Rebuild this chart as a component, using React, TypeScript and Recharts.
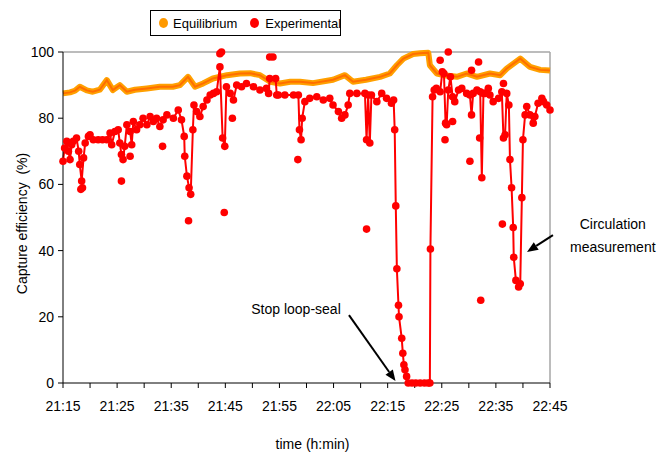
import React from 'react'
import {
  ComposedChart, Line, Scatter, XAxis, YAxis, ReferenceLine, ReferenceDot,
} from 'recharts'

// time is in minutes after 21:15
const START_MIN = 21 * 60 + 15
const xTicks = [0, 5, 10, 15, 20, 25, 30, 35, 40, 45, 50, 55, 60, 65, 70, 75, 80, 85, 90]
const yTicks = [0, 20, 40, 60, 80, 100]

const eqTime = [
  0, 1.3, 2.2, 3.1, 4.4, 5.5, 6.8, 8.1, 9.2, 10.5,
  11.8, 13.3, 15.5, 17.9, 20.3, 21.6, 23.1, 24.4, 25.9, 27.7,
  30.3, 32.7, 34.6, 36.4, 38.3, 40.1, 42.0, 43.8, 46.2, 49.9,
  52.1, 53.6, 56.0, 58.6, 60.4, 61.7, 62.9, 64.7, 66.0, 67.5,
  67.8, 69.1, 70.4, 72.8, 74.6, 76.5, 78.9, 80.8, 82.0, 84.5,
  86.3, 88.2, 90,
]
const eqValue = [
  87.5, 87.8, 88.3, 89.5, 88.4, 88, 88.6, 91.5, 88.5, 90,
  88, 88.6, 89, 89.5, 89.5, 90, 92.5, 89.5, 90.5, 92,
  93, 93.5, 93.6, 93, 91, 90.5, 91, 91, 90.6, 91.6,
  93, 91, 91.6, 92.5, 93.5, 96, 98, 99.4, 99.6, 99.8,
  96, 93.5, 93, 92.5, 93.5, 92.5, 93.5, 93, 95, 98,
  95.5, 94.6, 94.4,
]

const expTime = [
  0, 0.3, 0.7, 1.0, 1.3, 1.6, 1.9, 2.5, 2.9, 3.1,
  3.45, 3.8, 4.1, 4.7, 5.0, 5.6, 6.5, 7.3, 8.1, 8.7,
  9.0, 9.6, 10.2, 10.5, 10.8, 11.1, 11.4, 11.8, 12.4, 12.7,
  13.0, 13.6, 14.2, 14.8, 15.5, 16.1, 16.7, 17.3, 17.9, 18.5,
  19.2, 20.4, 21.3, 21.9, 22.4, 22.5, 22.9, 23.3, 23.6, 24.0,
  24.2, 24.7, 25.3, 25.9, 26.6, 27.2, 27.8, 28.4, 29.0, 29.5,
  29.9, 30.2, 30.9, 31.5, 32.1, 33.0, 33.9, 35.2, 36.4, 37.6,
  38.0, 38.2, 39.3, 39.5, 39.8, 41.0, 42.6, 43.5, 43.7, 44.0,
  44.2, 44.7, 45.6, 46.9, 48.1, 49.3, 49.9, 50.9, 51.5, 52.1,
  52.7, 53.0, 54.3, 55.8, 56.1, 56.4, 56.7, 57.0, 58.0, 58.9,
  59.8, 60.7, 61.1, 61.3, 61.5, 61.7, 62.0, 62.1, 62.6, 62.8,
  63.0, 63.2, 63.5, 63.8, 64.5, 65.2, 66.0, 66.8, 67.5, 67.8,
  67.9, 68.3, 68.6, 69.0, 69.7, 70.1, 70.4, 70.7, 70.9, 71.2,
  71.6, 72.0, 72.4, 73.1, 73.7, 74.6, 75.2, 75.5, 75.8, 76.5,
  77.1, 77.4, 77.7, 78.0, 78.6, 78.9, 79.5, 80.5, 81.1, 81.4,
  81.7, 82.0, 82.4, 82.6, 82.9, 83.2, 83.3, 83.7, 84.2, 84.5,
  84.8, 85.0, 85.4, 85.7, 86.3, 86.9, 87.2, 87.8, 88.5, 88.8,
  89.4, 90.0,
]
const expValue = [
  67, 71, 73, 70, 67.5, 72, 73, 74, 70, 66,
  61, 68, 72.5, 74.5, 75, 73.5, 73.5, 73.5, 73.5, 75.5,
  72, 76, 76.5, 72.5, 69, 67.5, 71.5, 78, 76, 72,
  79, 76.5, 78, 80, 78, 80.5, 79, 80, 77.5, 79.5,
  81, 80, 82.5, 79.5, 74.5, 68.5, 62.5, 59, 57, 76.5,
  84, 82, 80.5, 83.5, 85.5, 87, 87.5, 88, 95.5, 74,
  71.5, 89.5, 87.5, 85.5, 90, 89.5, 90.5, 89.5, 88.5, 89,
  87.5, 92, 92, 87, 87, 87, 87, 87, 76.5, 73.5,
  80, 85, 86, 86.5, 85.5, 86, 84, 82, 80, 81,
  84, 87.5, 87.5, 87.5, 73.5, 87, 72.5, 87, 85, 87.5,
  86, 84.5, 85.5, 76.5, 53.5, 34.5, 23.5, 20, 13.5, 9,
  5.5, 4, 2, 0, 0, 0, 0, 0, 0, 0,
  40.5, 86.5, 88.5, 89, 88, 94, 93.5, 78.5, 78, 88.5,
  92.5, 86.5, 85, 88.5, 89, 87.5, 87, 81, 87.5, 88.5,
  88, 62, 87.5, 87.5, 89, 87, 85, 86, 88, 74,
  75, 87.5, 84, 67.5, 59, 47, 38, 31, 29, 30,
  56, 73.5, 81, 83.5, 81, 78.5, 80.5, 84.5, 86, 85,
  84, 82.5,
]

// isolated experimental points, not on the connected trace
const outTime = [
  3.3, 3.6, 10.8, 12.4, 18.4, 23.2, 29.0, 29.3, 29.8, 31.3,
  38.2, 38.8, 43.4, 56.1, 69.7, 70.6, 71.2, 72.0, 75.2, 75.5,
  76.8, 77.0, 77.2, 81.2, 81.4,
]
const outValue = [
  58.5, 59, 61, 68.5, 71.5, 49, 99.5, 100, 51.5, 80,
  98.5, 98.5, 67.5, 46.5, 97.5, 73.5, 100, 79, 67, 94.5,
  97, 74, 25, 48, 90.5,
]

const zip = (ts: number[], vs: number[]) => ts.map((t, i) => ({ t, v: vs[i] }))
const eqData = zip(eqTime, eqValue)
const expData = zip(expTime, expValue)
const outData = zip(outTime, outValue)

const FONT = '"Liberation Sans", Arial, sans-serif'
const COLORS = {
  eqBand: '#FFA000',
  eqLine: '#FF6E00',
  exp: '#FF0000',
  frame: '#A6A6A6',
}

function clock(t: number) {
  const m = START_MIN + t
  const h = Math.floor(m / 60)
  const mm = m % 60
  return `${h}:${mm < 10 ? '0' : ''}${mm}`
}

function Arrow(p: any) {
  const { x1, y1, x2, y2 } = p
  const ang = Math.atan2(y2 - y1, x2 - x1)
  const L = 11, W = 4.5
  const bx = x2 - L * Math.cos(ang)
  const by = y2 - L * Math.sin(ang)
  const nx = -Math.sin(ang) * W
  const ny = Math.cos(ang) * W
  return (
    <g>
      <line x1={x1} y1={y1} x2={bx} y2={by} stroke="#000" strokeWidth={2} />
      <polygon points={`${x2},${y2} ${bx + nx},${by + ny} ${bx - nx},${by - ny}`} fill="#000" />
    </g>
  )
}

const textLabel = (lines: string[]) => (props: any) => {
  const vb = props.viewBox
  const cx = vb.x + (vb.width || 0) / 2
  const cy = vb.y + (vb.height || 0) / 2
  return (
    <text x={cx} y={cy - (lines.length - 1) * 11.5} textAnchor="middle" dominantBaseline="central"
      fontSize={14} fill="#000" fontFamily={FONT}>
      {lines.map((l, i) => (
        <tspan key={i} x={cx} dy={i === 0 ? 0 : 23}>{l}</tspan>
      ))}
    </text>
  )
}

const yLabel = (props: any) => {
  const vb = props.viewBox
  const cx = vb.x - 1
  const cy = vb.y + vb.height / 2 + 6
  return (
    <text x={cx} y={cy} transform={`rotate(-90 ${cx} ${cy})`} textAnchor="middle"
      dominantBaseline="central" fontSize={14} fill="#000" fontFamily={FONT}>
      {'Capture efficiency\u00a0\u00a0(%)'}
    </text>
  )
}

function LegendBox() {
  const dot = (c: string) => (
    <span style={{ display: 'inline-block', width: 9, height: 10, borderRadius: '50%', background: c }} />
  )
  return (
    <div style={{
      position: 'absolute', left: 150, top: 10, width: 189, height: 24,
      border: '1.5px solid #000', display: 'flex', alignItems: 'center',
      fontFamily: FONT, fontSize: 13, color: '#000', background: '#fff',
    }}>
      <span style={{ marginLeft: 8, display: 'flex' }}>{dot('#FF9900')}</span>
      <span style={{ marginLeft: 5 }}>Equilibrium</span>
      <span style={{ marginLeft: 13, display: 'flex' }}>{dot(COLORS.exp)}</span>
      <span style={{ marginLeft: 6 }}>Experimental</span>
    </div>
  )
}

export default function App() {
  return (
    <div style={{ position: 'absolute', left: 0, top: 0, width: 670, height: 457, background: '#fff' }}>
      <ComposedChart width={670} height={457} margin={{ top: 52, right: 120, bottom: 44, left: 23 }}>
        <XAxis
          dataKey="t"
          type="number"
          domain={[0, 90]}
          ticks={xTicks}
          interval={0}
          tickFormatter={(t: number) => (t % 10 === 0 ? clock(t) : '')}
          tick={{ fontSize: 14, fill: '#000', fontFamily: FONT }}
          tickLine={{ stroke: '#000' }}
          axisLine={{ stroke: '#000' }}
          tickSize={5}
          tickMargin={13}
          height={30}
          label={{ value: 'time (h:min)', position: 'bottom', offset: 26, dx: 6, fontSize: 14, fill: '#000', fontFamily: FONT }}
        />
        <YAxis
          dataKey="v"
          type="number"
          domain={[0, 100]}
          ticks={yTicks}
          interval={0}
          tick={{ fontSize: 14, fill: '#000', fontFamily: FONT }}
          tickLine={{ stroke: '#000' }}
          axisLine={{ stroke: '#000' }}
          tickSize={5}
          tickMargin={4}
          width={40}
          label={{ content: yLabel }}
        />
        <ReferenceLine y={100} stroke={COLORS.frame} strokeWidth={1.5} />
        <ReferenceLine x={90} stroke={COLORS.frame} strokeWidth={1.5} />

        <Line data={eqData} dataKey="v" type="linear" stroke={COLORS.eqBand} strokeWidth={6}
          strokeLinejoin="round" dot={false} activeDot={false} isAnimationActive={false} />
        <Line data={eqData} dataKey="v" type="linear" stroke={COLORS.eqLine} strokeWidth={2}
          dot={false} activeDot={false} isAnimationActive={false} />

        <Line data={expData} dataKey="v" type="linear" stroke={COLORS.exp} strokeWidth={2}
          dot={{ r: 3.8, fill: COLORS.exp, stroke: 'none' }} activeDot={false} isAnimationActive={false} />
        <Scatter data={outData} dataKey="v" isAnimationActive={false}
          shape={(p: any) => <circle cx={p.cx} cy={p.cy} r={3.8} fill={COLORS.exp} />} />

        <ReferenceLine segment={[{ x: 52.85, y: 20.5 }, { x: 61.45, y: 0.6 }]} ifOverflow="visible"
          shape={(p: any) => <Arrow {...p} />} />
        <ReferenceLine segment={[{ x: 90.55, y: 44.7 }, { x: 85.75, y: 39.6 }]} ifOverflow="visible"
          shape={(p: any) => <Arrow {...p} />} />

        <ReferenceDot x={43.06} y={22.4} r={1} fill="none" stroke="none" ifOverflow="visible"
          label={{ content: textLabel(['Stop loop-seal']) }} />
        <ReferenceDot x={101.6} y={44.6} r={1} fill="none" stroke="none" ifOverflow="visible"
          label={{ content: textLabel(['Circulation', 'measurement']) }} />
      </ComposedChart>
      <LegendBox />
    </div>
  )
}
